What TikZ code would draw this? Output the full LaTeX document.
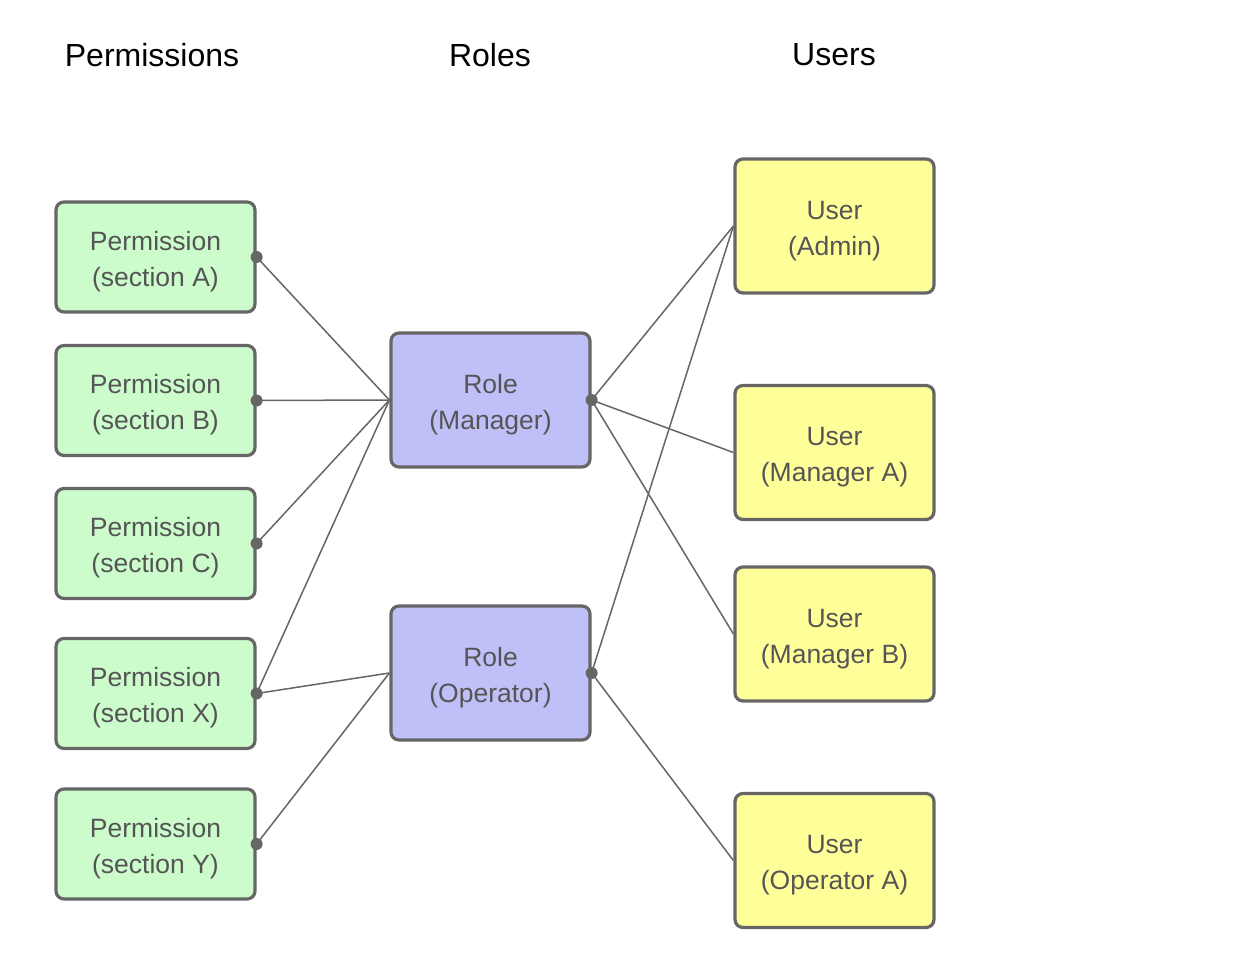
\documentclass[tikz,border=0pt]{standalone}
\usepackage{fontspec}
\setmainfont{Liberation Sans}
\definecolor{pgreen}{HTML}{CCFCCB}
\definecolor{prole}{HTML}{C0C0F8}
\definecolor{puser}{HTML}{FFFF99}
\definecolor{bord}{HTML}{666666}
\definecolor{txt}{HTML}{555555}
\tikzset{
  box/.style={draw=bord, line width=3.2pt, rounded corners=8pt, minimum width=199pt, text=txt,
    align=center, font=\fontsize{26.5pt}{36pt}\selectfont, inner sep=0pt, text height=63.5pt},
  permbox/.style={box, fill=pgreen, minimum height=110pt},
  rolebox/.style={box, fill=prole, minimum height=134pt},
  userbox/.style={box, fill=puser, minimum height=134pt},
  head/.style={font=\fontsize{32pt}{36pt}\selectfont, text=black},
  conn/.style={draw=bord, line width=1.5pt},
  dotc/.style={fill=bord, circle, inner sep=0pt, minimum size=12pt}
}
\begin{document}
\begin{tikzpicture}[x=1pt,y=-1pt]
\useasboundingbox (0,0) rectangle (1234,960);
\fill[white] (0,0) rectangle (1234,960);
\node[head] (hp) at (152,55) {Permissions};
\node[head] (hr) at (490,55) {Roles};
\node[head] (hu) at (834,55) {Users};

\node[permbox] (pa) at (155.5,257) {Permission\\(section A)};
\node[permbox] (pb) at (155.5,400.5) {Permission\\(section B)};
\node[permbox] (pc) at (155.5,543.5) {Permission\\(section C)};
\node[permbox] (px) at (155.5,693.5) {Permission\\(section X)};
\node[permbox] (py) at (155.5,844) {Permission\\(section Y)};

\node[rolebox] (rm) at (490.5,400) {Role\\(Manager)};
\node[rolebox] (ro) at (490.5,673) {Role\\(Operator)};

\node[userbox] (ua) at (834.5,226) {User\\(Admin)};
\node[userbox] (uma) at (834.5,452.5) {User\\(Manager A)};
\node[userbox] (umb) at (834.5,634) {User\\(Manager B)};
\node[userbox] (uoa) at (834.5,860.5) {User\\(Operator A)};

\foreach \p in {pa,pb,pc,px}{\draw[conn] (\p.east) -- (rm.west);}
\foreach \p in {px,py}{\draw[conn] (\p.east) -- (ro.west);}
\foreach \u in {ua,uma,umb}{\draw[conn] (rm.east) -- (\u.west);}
\foreach \u in {ua,uoa}{\draw[conn] (ro.east) -- (\u.west);}

\foreach \p in {pa,pb,pc,px,py,rm,ro}{\node[dotc] (d\p) at (\p.east) {};}
\end{tikzpicture}
\end{document}
